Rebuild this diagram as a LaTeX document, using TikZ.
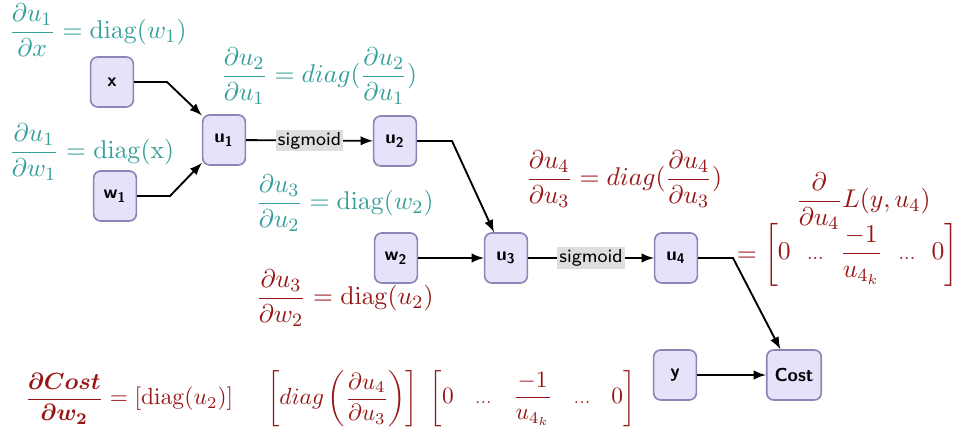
\documentclass[tikz,border=0pt]{standalone}
\usepackage{bm}
\usepackage{amsmath,amssymb}

\definecolor{tealeq}{RGB}{52,158,152}
\definecolor{redeq}{RGB}{150,22,22}
\definecolor{boxfill}{RGB}{229,226,250}
\definecolor{boxline}{RGB}{140,134,182}

\newcommand{\sdots}{{\scriptstyle\ldots}}

\tikzset{
unit/.style={draw=boxline,fill=boxfill,rounded corners=3pt,line width=0.7pt,
  minimum width=0.64cm,minimum height=0.75cm,font=\sffamily\bfseries\footnotesize},
act/.style={fill=black!13,inner sep=1pt,font=\sffamily\footnotesize},
grad/.style={text=tealeq,font=\fontsize{11.2}{13.5}\selectfont,anchor=west,inner sep=0pt},
loss/.style={text=redeq,font=\fontsize{11.2}{13.5}\selectfont,anchor=west,inner sep=0pt}
}

\begin{document}
\begin{tikzpicture}[x=0.015cm,y=-0.015cm,>=latex,thick]
\useasboundingbox (0,0) rectangle (968,441);
% units
\path
(112,82) node[unit] (x) {x}
(115,196) node[unit] (w1) {w\textsubscript{1}}
(224,140) node[unit] (u1) {u\textsubscript{1}}
(395,141) node[unit] (u2) {u\textsubscript{2}}
(396,258) node[unit] (w2) {w\textsubscript{2}}
(506,258) node[unit] (u3) {u\textsubscript{3}}
(676,258) node[unit] (u4) {u\textsubscript{4}}
(675,375) node[unit] (y) {y}
(794,375) node[unit] (cost) {Cost};
% bends
\coordinate (bx) at (167,82);
\coordinate (bw1) at (170,196);
\coordinate (bu2) at (452,141);
\coordinate (bu4) at (733,258);
\draw[->] (x) -- (bx) -- (u1.132);
\draw[->] (w1) -- (bw1) -- (u1.226);
\draw[->] (u1) -- node[act] {sigmoid} (u2);
\draw[->] (u2) -- (bu2) -- (u3.115);
\draw[->] (w2) -- (u3);
\draw[->] (u3) -- node[act] {sigmoid} (u4);
\draw[->] (u4) -- (bu4) -- (cost.118);
\draw[->] (y) -- (cost);
% local gradients
\path
(8,30) node[grad] (du1dx) {$\dfrac{\partial u_1}{\partial x} = \mathrm{diag}(w_1)$}
(8,152) node[grad] (du1dw1) {$\dfrac{\partial u_1}{\partial w_1} = \mathrm{diag}(\mathrm{x})$}
(220,76) node[grad] (du2du1) {$\dfrac{\partial u_2}{\partial u_1} = diag(\dfrac{\partial u_2}{\partial u_1})$}
(255,203) node[grad] (du3du2) {$\dfrac{\partial u_3}{\partial u_2} = \mathrm{diag}(w_2)$}
(255,298) node[loss] (du3dw2) {$\dfrac{\partial u_3}{\partial w_2} = \mathrm{diag}(u_2)$}
(525,179) node[loss] (du4du3) {$\dfrac{\partial u_4}{\partial u_3} = diag(\dfrac{\partial u_4}{\partial u_3})$}
(795,201) node[loss] (dL) {$\dfrac{\partial}{\partial u_4}L(y,u_4)$}
(736,255) node[loss] (dLvec) {$=\setlength\arraycolsep{3.5pt}\begin{bmatrix}0 & \sdots & \dfrac{-1}{u_{4_k}} & \sdots & 0\end{bmatrix}$};
%\draw[->] (dL)--(dLvec);
\path
(24,399) node[loss,font=\normalsize] (dcost) {$\dfrac{\bm{\partial Cost}}{\bm{\partial w_2}} = [\mathrm{diag}(u_2)]\hspace{0.45cm}
 \left[diag\left(\dfrac{\partial u_4}{\partial u_3}\right)\right]\,\,
 \setlength\arraycolsep{4.5pt}\begin{bmatrix}0 & \sdots & \dfrac{-1}{u_{4_k}} & \sdots & 0\end{bmatrix}$};
\end{tikzpicture}
\end{document}
